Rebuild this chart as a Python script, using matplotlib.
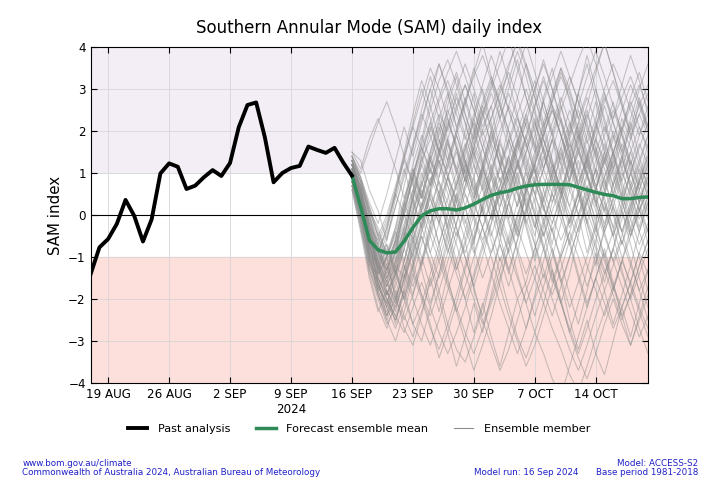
import numpy as np
import matplotlib
matplotlib.use("Agg")
import matplotlib.pyplot as plt

# %%
# Data
past_start = np.datetime64("2024-08-17")
fc_start = np.datetime64("2024-09-16")

past_sam = [-1.40, -0.77, -0.57, -0.21, 0.36, -0.02, -0.63, -0.10, 0.99, 1.23,
            1.15, 0.62, 0.70, 0.90, 1.07, 0.93, 1.24, 2.09, 2.62, 2.68,
            1.85, 0.78, 1.00, 1.12, 1.17, 1.63, 1.55, 1.48, 1.60, 1.25, 0.94]

ens_mean = [0.94, 0.20, -0.60, -0.83, -0.90, -0.88, -0.62, -0.30, -0.02, 0.10,
            0.15, 0.15, 0.12, 0.17, 0.26, 0.37, 0.47, 0.53, 0.57, 0.64,
            0.69, 0.72, 0.73, 0.73, 0.73, 0.72, 0.66, 0.60, 0.54, 0.49,
            0.46, 0.39, 0.39, 0.42, 0.43]

members = [
    [1.2, 0.5, -0.4, -1.0, -1.3, -0.8, -0.2, 0.6, 1.3, 1.8, 2.4, 2.0, 2.6, 3.1, 2.5, 1.9, 2.3, 2.9, 3.4, 2.8, 2.1, 1.5, 1.9, 2.6, 2.2, 1.4, 0.8, 1.3, 2.0, 2.7, 3.2, 2.6, 1.9, 2.4, 2.9],
    [0.9, 0.1, -0.9, -1.6, -2.1, -2.5, -1.9, -1.2, -0.5, -1.1, -1.8, -2.6, -3.2, -3.5, -2.9, -2.2, -1.4, -0.7, -1.3, -2.0, -1.6, -0.8, -0.2, 0.5, 0.1, -0.6, -1.4, -2.1, -1.5, -0.9, -1.7, -2.4, -1.9, -1.2, -0.6],
    [1.4, 0.9, 0.2, -0.5, -1.1, -0.6, 0.3, 1.1, 0.5, -0.2, 0.4, 1.2, 1.9, 1.3, 0.6, 1.1, 1.8, 2.5, 3.2, 3.9, 3.3, 2.5, 1.8, 1.1, 0.4, 0.9, 1.6, 1.0, 0.3, -0.4, 0.2, 0.9, 1.5, 2.1, 1.6],
    [1.0, 0.3, -0.7, -1.4, -1.0, -0.4, 0.3, -0.3, -1.0, -1.7, -1.1, -0.4, 0.4, 1.1, 1.7, 1.2, 0.5, -0.2, -0.9, -0.3, 0.6, 1.4, 2.1, 2.7, 3.3, 2.8, 2.0, 1.2, 0.6, 1.3, 1.9, 1.4, 0.7, 0.1, 0.6],
    [0.8, 0.0, -1.1, -1.8, -2.4, -2.0, -1.3, -0.6, 0.2, 0.9, 0.4, -0.3, 0.5, 1.2, 0.8, 0.1, -0.6, -1.4, -2.2, -2.9, -3.4, -2.8, -3.3, -3.9, -4.3, -3.6, -2.9, -2.2, -1.5, -2.1, -2.7, -2.2, -1.6, -0.9, -1.4],
    [1.5, 1.1, 1.8, 2.3, 1.7, 1.1, 0.4, 1.0, 1.6, 1.1, 0.5, 1.3, 2.0, 2.7, 3.3, 3.8, 3.2, 2.6, 2.0, 1.3, 0.7, 1.2, 1.9, 2.5, 1.9, 1.2, 0.6, 0.0, 0.6, 1.3, 2.0, 1.5, 0.8, 0.3, 0.9],
    [1.1, 0.4, -0.5, -1.2, -1.7, -1.2, -0.5, 0.4, 1.2, 2.0, 2.7, 3.2, 2.6, 1.9, 1.2, 0.6, 1.1, 1.7, 1.2, 0.5, -0.2, 0.4, 1.1, 1.8, 2.5, 3.1, 3.7, 4.2, 3.6, 2.9, 2.3, 2.8, 3.3, 2.7, 2.1],
    [0.7, -0.1, -1.0, -1.7, -2.2, -2.7, -2.1, -1.4, -2.0, -2.7, -3.2, -2.6, -1.9, -1.2, -0.5, 0.2, -0.4, -1.1, -0.5, 0.3, 1.0, 0.5, -0.2, -0.9, -1.6, -1.0, -0.3, 0.4, 1.1, 0.6, 0.0, -0.7, -0.1, 0.6, 1.2],
    [1.3, 0.6, -0.3, -0.9, -0.4, 0.5, 1.3, 2.1, 2.8, 3.5, 3.0, 2.3, 1.6, 1.0, 1.6, 2.3, 2.9, 2.3, 1.6, 0.9, 0.3, -0.3, 0.4, 1.0, 0.5, -0.2, 0.5, 1.2, 1.8, 1.3, 0.7, 0.1, -0.5, 0.1, 0.8],
    [0.9, 0.2, -0.8, -1.5, -1.9, -1.4, -0.8, -1.3, -1.9, -2.4, -1.8, -1.1, -0.4, -1.0, -1.7, -2.5, -3.1, -3.7, -3.2, -2.5, -1.8, -1.2, -1.8, -2.4, -1.7, -1.0, -0.3, 0.3, -0.3, -1.0, -0.4, 0.3, 1.0, 0.5, -0.1],
    [1.2, 0.7, 0.0, -0.6, -0.1, 0.6, 1.3, 0.8, 0.2, 0.8, 1.5, 2.2, 1.7, 1.0, 0.4, 1.0, 1.7, 1.2, 0.6, 1.2, 1.9, 2.6, 3.2, 2.6, 1.9, 1.3, 0.7, 1.4, 2.1, 2.8, 2.2, 1.6, 1.0, 1.6, 2.2],
    [1.0, 0.3, -0.6, -1.3, -1.8, -2.2, -1.6, -0.9, -0.2, 0.5, 0.0, -0.6, -1.3, -0.7, 0.0, 0.7, 1.4, 2.0, 2.6, 2.1, 1.4, 0.8, 0.2, -0.4, 0.2, 0.9, 1.5, 1.0, 0.3, -0.4, -1.1, -0.5, 0.2, -0.4, -1.0],
    [0.6, -0.3, -1.3, -2.0, -2.6, -2.2, -1.5, -0.8, -0.1, 0.6, 1.3, 0.7, 0.0, 0.6, 1.2, 0.6, -0.1, 0.5, 1.1, 1.8, 1.2, 0.5, -0.1, -0.8, -1.5, -2.2, -1.6, -1.0, -0.3, 0.3, -0.3, -1.0, -1.7, -2.3, -2.9],
    [1.3, 0.8, 0.2, -0.4, -0.9, -0.3, 0.4, 1.2, 1.9, 1.3, 0.7, 0.1, -0.5, 0.2, 0.9, 1.6, 2.3, 3.0, 3.6, 4.1, 3.5, 2.8, 2.1, 2.7, 3.4, 2.9, 2.3, 1.7, 2.3, 3.0, 3.6, 3.1, 2.5, 1.9, 2.4],
    [1.0, 0.4, -0.5, -1.2, -1.6, -1.1, -0.4, 0.3, -0.3, -0.9, -1.5, -0.9, -0.2, 0.5, 0.0, -0.6, 0.0, 0.7, 1.3, 0.8, 0.2, 0.8, 1.4, 0.9, 0.3, -0.3, 0.3, 0.9, 0.4, -0.2, 0.4, 1.0, 0.5, -0.1, 0.4],
    [1.4, 0.8, 0.0, -0.7, -1.3, -0.9, 0.0, 0.9, 1.7, 2.5, 3.2, 3.7, 3.1, 2.4, 1.8, 2.4, 3.0, 3.6, 4.2, 3.5, 2.8, 2.2, 1.6, 1.0, 1.6, 2.2, 1.6, 0.9, 0.3, 0.9, 1.5, 2.1, 1.6, 1.0, 0.5],
    [0.8, 0.0, -1.0, -1.8, -2.3, -1.8, -2.4, -2.9, -2.3, -1.6, -0.9, -0.2, 0.5, -0.1, -0.8, -1.5, -0.9, -0.2, 0.5, 1.2, 0.6, 0.0, -0.7, -1.4, -2.1, -2.8, -3.4, -3.9, -3.3, -2.6, -2.0, -2.6, -3.1, -2.5, -1.9],
    [1.1, 0.5, -0.2, -0.8, -1.3, -0.7, 0.1, 0.9, 0.4, 1.1, 1.8, 1.3, 0.6, 1.2, 1.9, 2.6, 2.1, 1.4, 0.8, 0.2, 0.8, 1.5, 2.2, 2.9, 3.5, 3.0, 2.3, 2.9, 3.5, 4.1, 3.4, 2.7, 2.0, 2.6, 3.1],
    [0.9, 0.2, -0.7, -1.3, -0.8, -1.4, -2.0, -2.6, -2.1, -1.4, -0.7, 0.0, 0.7, 1.3, 0.7, 0.1, -0.5, 0.2, 0.9, 1.6, 2.2, 1.6, 0.9, 0.3, 0.9, 1.5, 2.1, 1.4, 0.7, 0.1, 0.7, 1.3, 0.7, 0.1, -0.4],
    [1.2, 0.6, -0.2, -0.9, -1.5, -1.0, -0.3, 0.5, 1.2, 0.7, 1.4, 2.1, 2.8, 2.2, 1.5, 0.9, 0.3, -0.3, -0.9, -1.5, -2.1, -1.5, -0.8, -0.2, 0.5, 1.1, 0.5, -0.2, -0.8, -1.4, -0.8, -0.1, 0.6, 1.2, 0.7],
    [1.0, 0.3, -0.6, -1.2, -0.6, 0.2, 1.0, 1.7, 2.4, 1.9, 1.2, 1.8, 2.5, 3.1, 2.5, 1.8, 1.1, 0.5, 1.1, 1.8, 2.4, 3.0, 3.6, 3.0, 2.3, 1.6, 2.2, 2.8, 2.2, 1.6, 1.0, 0.4, 1.0, 1.7, 1.2],
    [0.7, -0.2, -1.2, -1.9, -2.5, -2.0, -1.4, -2.0, -2.6, -3.1, -2.5, -1.8, -1.1, -0.4, 0.3, -0.3, -1.0, -1.7, -2.4, -3.0, -3.6, -3.1, -2.4, -1.7, -1.0, -0.4, -1.0, -1.7, -1.1, -0.4, 0.2, -0.4, -1.1, -1.8, -2.5],
    [1.3, 0.7, -0.1, -0.7, -0.2, 0.5, 0.0, -0.6, 0.1, 0.8, 1.5, 1.0, 0.3, 0.9, 1.6, 1.1, 0.5, 1.1, 1.7, 2.3, 1.7, 1.0, 1.6, 2.2, 2.8, 2.2, 1.5, 0.9, 1.5, 2.1, 1.5, 0.8, 0.2, 0.8, 1.4],
    [1.1, 0.4, -0.4, -1.1, -1.6, -2.1, -1.5, -0.9, -0.3, 0.4, -0.2, -0.8, -1.4, -2.0, -1.4, -0.7, 0.0, 0.6, 0.1, -0.5, 0.1, 0.8, 0.2, -0.4, -1.0, -0.4, 0.3, 1.0, 1.6, 1.1, 0.5, 1.1, 1.8, 2.4, 1.9],
    [0.9, 0.2, -0.7, -1.4, -1.9, -1.4, -0.7, 0.1, 0.8, 1.4, 0.8, 0.1, 0.7, 1.4, 2.0, 2.7, 3.3, 2.7, 2.0, 1.3, 0.7, 0.1, -0.5, 0.1, 0.7, 0.2, -0.4, 0.3, 0.9, 1.5, 0.9, 0.3, -0.3, 0.3, 0.9],
    [1.0, 0.4, -0.5, -1.1, -1.5, -1.1, -0.5, 0.2, 0.9, 1.5, 2.2, 1.7, 1.1, 0.5, -0.1, -0.7, -1.4, -2.1, -2.7, -3.3, -2.7, -2.0, -1.4, -2.0, -2.6, -3.2, -3.7, -3.1, -2.4, -1.8, -1.2, -0.6, -1.2, -1.8, -1.3],
    [1.2, 0.7, 0.1, -0.5, -1.0, -0.5, 0.2, 0.9, 1.6, 2.2, 2.8, 3.4, 3.9, 3.3, 2.7, 2.0, 1.4, 0.8, 1.4, 2.0, 2.6, 3.2, 2.5, 1.9, 1.3, 1.9, 2.6, 3.3, 3.9, 3.3, 2.6, 2.0, 2.6, 3.1, 2.5],
    [0.8, 0.1, -0.8, -1.5, -2.0, -2.4, -1.8, -1.1, -0.4, 0.2, 0.8, 0.3, -0.3, -0.9, -0.3, 0.4, 1.0, 0.4, -0.2, -0.8, -1.4, -0.8, -0.1, 0.5, 1.1, 1.7, 1.1, 0.5, -0.1, 0.5, 1.1, 1.7, 1.2, 0.6, 0.0],
    [1.1, 0.5, -0.3, -0.9, -1.3, -0.7, 0.0, 0.6, 0.1, -0.5, -1.1, -1.7, -2.3, -1.7, -1.0, -0.3, 0.4, 1.1, 1.8, 1.2, 0.6, 1.2, 1.8, 1.2, 0.6, 0.0, -0.6, -1.2, -1.8, -2.4, -1.8, -1.1, -0.5, 0.1, 0.6],
    [1.3, 0.8, 0.1, -0.5, 0.0, 0.7, 1.4, 2.1, 1.6, 1.0, 1.7, 2.4, 3.0, 3.6, 3.0, 2.4, 1.7, 2.3, 2.9, 2.3, 1.7, 1.0, 0.4, -0.2, 0.4, 1.1, 1.8, 2.4, 1.8, 1.2, 1.8, 2.5, 3.1, 2.6, 2.0],
    [0.9, 0.1, -0.9, -1.6, -2.2, -1.7, -1.1, -0.4, 0.3, -0.3, -0.9, -1.6, -2.2, -2.8, -3.3, -2.7, -2.1, -1.5, -0.8, -0.2, 0.4, -0.2, -0.8, -1.5, -2.1, -2.7, -3.3, -2.7, -2.0, -1.4, -0.8, -1.4, -2.0, -1.4, -0.8],
    [1.0, 0.3, -0.6, -1.2, -1.7, -1.2, -0.6, 0.1, 0.7, 1.3, 1.9, 2.5, 1.9, 1.2, 0.6, 0.0, 0.6, 1.2, 1.8, 2.4, 3.0, 2.4, 1.8, 1.2, 0.6, 1.2, 1.9, 1.3, 0.7, 0.1, -0.5, 0.1, 0.7, 1.3, 1.9],
    [1.2, 0.6, -0.1, -0.8, -1.2, -0.6, -1.2, -1.7, -1.1, -0.4, 0.3, 0.9, 0.4, -0.2, 0.4, 1.1, 0.5, -0.1, -0.7, -0.1, 0.6, 1.3, 1.9, 2.5, 1.9, 1.3, 0.7, 0.1, -0.5, -1.1, -1.7, -2.2, -1.6, -0.9, -0.3],
    [1.1, 0.4, -0.4, -1.0, -0.5, 0.2, 0.9, 1.6, 2.3, 3.0, 3.6, 3.0, 2.4, 1.8, 2.4, 3.1, 3.8, 3.2, 2.5, 1.9, 1.3, 0.7, 1.3, 2.0, 2.7, 3.3, 2.7, 2.1, 1.5, 0.9, 1.5, 2.1, 2.7, 2.1, 1.5],
    [0.8, 0.0, -1.0, -1.7, -2.1, -1.5, -0.8, -0.1, 0.5, 1.1, 0.5, -0.1, -0.7, -1.4, -2.0, -2.6, -2.0, -1.3, -0.6, 0.0, 0.6, 1.2, 0.6, 0.0, -0.6, -0.1, 0.5, -0.1, -0.7, -1.3, -1.9, -2.5, -1.9, -1.2, -0.6],
    [1.4, 1.0, 1.6, 2.2, 2.7, 2.1, 1.4, 0.7, 0.1, 0.7, 1.3, 0.7, 0.1, 0.7, 1.4, 2.0, 2.6, 3.1, 2.5, 1.8, 1.1, 0.5, 1.1, 1.8, 1.2, 0.6, 0.0, 0.6, 1.3, 1.9, 2.5, 1.9, 1.3, 0.7, 1.3],
    [1.0, 0.3, -0.5, -1.1, -1.6, -2.0, -2.5, -1.9, -1.2, -0.5, 0.2, 0.9, 1.5, 0.9, 0.3, -0.3, -0.9, -0.3, 0.3, 0.9, 1.5, 2.1, 2.7, 3.3, 3.9, 3.3, 2.7, 2.0, 1.4, 0.8, 0.2, -0.4, 0.2, 0.8, 1.4],
    [0.7, -0.1, -1.1, -1.8, -1.3, -0.6, 0.1, 0.8, 1.5, 2.1, 1.5, 0.9, 0.3, -0.3, -0.9, -0.3, 0.3, 0.9, 0.3, -0.3, -0.9, -1.5, -2.1, -2.7, -3.2, -3.8, -4.2, -3.6, -2.9, -2.3, -1.7, -1.1, -1.6, -2.2, -2.7],
    [1.2, 0.5, -0.3, -0.9, -1.4, -0.9, -0.3, 0.4, 1.0, 0.4, -0.2, 0.4, 1.0, 1.6, 2.2, 1.6, 1.0, 0.4, 1.0, 1.7, 2.3, 1.7, 1.1, 0.5, -0.1, -0.7, -0.1, 0.5, 1.1, 1.7, 1.1, 0.5, -0.1, -0.7, -0.2],
    [0.9, 0.2, -0.8, -1.5, -2.0, -2.4, -2.8, -2.2, -1.6, -2.2, -2.8, -3.3, -2.8, -2.2, -1.5, -0.8, -0.2, 0.5, 1.1, 0.5, -0.1, -0.7, -1.3, -1.9, -1.3, -0.6, 0.0, 0.7, 0.1, -0.5, -1.1, -1.7, -2.3, -2.9, -2.4],
    [1.3, 0.4, -0.8, -1.1, -1.9, -1.2, -1.5, -0.4, 0.2, 1.3, 0.9, 1.8, 1.1, 2.0, 2.9, 2.1, 2.6, 1.5, 0.8, 1.7, 2.4, 1.6, 2.8, 3.5, 2.6, 1.9, 2.9, 3.8, 3.0, 2.2, 1.4, 2.3, 1.8, 2.7, 2.0],
    [1.0, 0.6, -0.2, -1.4, -1.0, -2.0, -1.3, -0.5, -1.2, -0.3, 0.5, -0.4, -1.3, -0.6, -1.8, -2.4, -1.5, -0.6, 0.3, -0.5, 0.6, 1.1, 0.2, -0.7, 0.4, 1.3, 0.5, -0.4, -1.2, -0.3, 0.8, 1.4, 0.6, -0.3, 0.5],
    [0.6, -0.4, -1.5, -2.3, -1.8, -2.6, -1.7, -0.7, 0.1, -0.9, -0.2, 0.9, 1.6, 0.8, 1.9, 2.6, 3.2, 2.3, 3.0, 3.7, 2.8, 2.0, 1.1, 1.8, 0.9, 0.2, 1.0, 1.9, 2.7, 1.8, 1.1, 2.0, 2.8, 3.4, 2.7],
    [1.5, 1.3, 0.6, 0.1, -0.6, 0.4, 1.1, 0.3, 1.4, 2.2, 1.5, 2.6, 3.3, 2.4, 1.7, 2.5, 1.6, 0.8, -0.1, 0.7, -0.2, -1.0, -0.3, 0.6, 1.5, 0.8, 1.7, 2.5, 1.6, 0.7, 1.5, 0.6, -0.4, 0.3, 1.1],
    [0.9, -0.1, -1.2, -1.6, -2.4, -1.9, -2.7, -3.1, -2.4, -1.5, -2.3, -1.4, -0.6, 0.2, -0.7, 0.3, 1.2, 0.5, 1.4, 0.6, -0.3, -1.1, -0.4, -1.3, -2.1, -1.4, -0.5, 0.4, -0.4, 0.5, 1.3, 0.4, -0.5, 0.2, -0.7],
    [1.1, 0.7, -0.4, -0.8, -1.5, -0.9, 0.2, 1.0, 0.4, 1.5, 2.3, 2.9, 2.1, 2.7, 3.5, 2.9, 2.0, 1.2, 2.1, 2.8, 3.6, 3.0, 2.2, 1.3, 0.5, 1.4, 2.2, 1.5, 0.6, 1.5, 2.3, 3.1, 3.8, 3.2, 2.4],
    [0.8, 0.1, -0.6, -1.7, -2.1, -1.3, -0.4, -1.1, -1.9, -2.6, -3.4, -2.8, -3.6, -2.9, -2.1, -2.8, -1.9, -1.0, -1.7, -0.9, 0.0, 0.8, 0.1, 0.9, 1.6, 0.8, 0.0, -0.9, -0.2, -1.0, -1.8, -1.1, -0.3, -1.0, -1.8],
    [1.2, 0.3, -0.5, -1.3, -0.7, -1.4, -0.6, 0.5, 1.4, 0.7, 1.6, 0.9, 0.1, 0.9, 0.2, 1.1, 1.9, 1.2, 0.4, -0.4, 0.5, -0.3, 0.6, 1.5, 2.3, 1.5, 0.7, -0.2, 0.6, 1.4, 0.5, 1.3, 2.2, 1.4, 0.6],
    [1.0, 0.2, -1.0, -1.4, -1.0, -0.3, 0.7, 1.6, 2.5, 3.3, 2.6, 1.8, 1.0, 1.7, 0.9, 0.1, 0.9, 1.8, 2.6, 3.4, 4.1, 3.4, 2.7, 1.9, 2.6, 1.8, 1.0, 0.3, 1.1, 0.4, -0.3, 0.5, 1.3, 0.6, 1.2],
    [0.7, -0.3, -1.4, -2.2, -2.7, -2.1, -1.2, -1.9, -1.1, -0.2, 0.6, -0.3, -1.1, -2.0, -2.8, -2.1, -2.9, -3.6, -2.8, -2.0, -2.7, -1.9, -1.1, -0.3, -1.1, -1.9, -2.6, -1.8, -0.9, -1.6, -0.8, 0.1, -0.7, -1.5, -2.2],
    [1.4, 0.9, 0.1, -0.3, -1.0, -0.4, -1.1, -0.2, 0.6, 0.0, 0.9, 1.7, 1.0, 0.2, -0.6, 0.2, 1.0, 1.8, 1.0, 0.2, 1.1, 1.9, 2.7, 2.0, 1.2, 2.0, 2.9, 3.6, 2.8, 2.0, 2.7, 1.9, 1.1, 0.3, 1.0],
    [0.9, 0.3, -0.9, -1.2, -1.8, -2.3, -1.5, -0.6, -1.3, -2.1, -1.4, -0.5, 0.3, 1.1, 0.4, 1.2, 0.4, -0.5, 0.3, 1.0, 0.2, -0.7, -1.5, -0.8, -1.6, -2.5, -3.2, -2.5, -3.3, -3.8, -3.0, -2.2, -2.9, -2.1, -1.3],
    [1.2, 0.8, 0.0, -0.9, -0.3, 0.5, 1.4, 2.2, 3.0, 2.3, 1.5, 2.3, 1.6, 0.8, 1.6, 2.4, 3.1, 3.9, 3.2, 2.4, 1.6, 2.3, 1.5, 0.7, 1.4, 2.1, 2.9, 2.2, 1.4, 0.6, 1.3, 2.0, 1.2, 1.9, 2.6],
    [1.0, 0.1, -0.7, -1.6, -2.2, -1.4, -0.5, 0.4, -0.3, 0.6, -0.1, -0.9, -0.2, 0.7, 1.5, 0.8, 0.1, -0.7, -1.4, -0.6, 0.2, -0.5, 0.4, 1.2, 0.5, 1.3, 2.0, 1.3, 0.5, -0.3, 0.4, -0.4, 0.3, 1.1, 0.4],
    [1.3, 0.6, -0.3, -0.6, -1.2, -1.9, -1.1, -0.2, 0.7, 1.4, 2.1, 1.3, 2.0, 2.8, 2.1, 1.3, 0.6, -0.2, 0.6, 1.3, 0.5, 1.2, 2.0, 2.8, 3.5, 2.7, 1.9, 1.1, 1.8, 2.6, 1.9, 1.1, 0.4, -0.4, 0.3],
    [0.8, 0.0, -1.1, -1.5, -2.0, -2.5, -1.8, -2.6, -3.0, -2.2, -1.4, -0.7, 0.1, -0.6, 0.2, 1.0, 0.3, -0.5, -1.3, -0.6, 0.1, 0.9, 1.6, 0.9, 0.1, -0.7, -1.5, -2.2, -1.5, -0.8, -1.6, -2.4, -3.1, -2.4, -1.7],
    [1.1, 0.5, -0.6, -1.0, -1.6, -0.8, 0.1, 0.9, 1.8, 2.7, 3.6, 2.9, 2.1, 1.3, 0.5, 1.2, 2.0, 2.7, 3.5, 4.2, 3.6, 2.8, 2.0, 1.3, 0.6, -0.2, 0.5, 1.3, 2.1, 2.9, 2.2, 1.5, 2.3, 3.0, 3.6],
    [0.9, 0.4, -0.4, -1.1, -0.7, -1.3, -2.0, -1.2, -0.4, 0.5, 1.2, 0.5, -0.3, -1.0, -1.7, -1.0, -0.2, 0.6, -0.1, -0.9, -1.7, -2.4, -1.7, -1.0, -0.2, 0.6, 1.3, 0.6, -0.2, 0.6, 1.4, 0.7, 0.0, 0.8, 1.5],
    [1.2, 0.6, -0.2, -0.7, -1.4, -0.6, 0.3, 1.1, 0.4, 1.3, 2.0, 2.8, 3.4, 2.7, 2.0, 1.2, 2.0, 1.2, 0.4, 1.2, 1.9, 1.1, 0.3, 1.0, 1.8, 2.5, 1.8, 1.0, 0.2, 0.9, 0.1, -0.7, 0.1, 0.9, 1.7],
    [1.0, 0.2, -0.9, -1.9, -2.5, -3.0, -2.3, -1.5, -0.7, 0.1, -0.7, -1.5, -2.3, -3.0, -3.7, -3.1, -2.4, -1.6, -0.8, 0.0, 0.7, 0.0, -0.8, -1.6, -0.9, -0.1, 0.6, -0.2, -1.0, -1.8, -2.6, -1.9, -1.2, -0.4, 0.3],
    [1.3, 0.9, 0.3, -0.2, 0.5, 1.3, 2.1, 1.4, 2.2, 3.0, 2.3, 1.5, 0.7, 1.5, 2.3, 3.0, 2.2, 1.4, 0.7, 1.5, 2.2, 3.0, 3.7, 3.0, 2.2, 1.5, 0.7, 1.4, 2.2, 1.5, 0.7, 1.4, 2.1, 2.8, 2.1],
    [0.8, -0.2, -1.3, -1.9, -2.4, -1.6, -0.8, 0.0, 0.8, 0.1, -0.7, 0.1, 0.8, 1.6, 2.3, 1.6, 0.9, 0.1, -0.6, -1.4, -2.1, -2.8, -2.1, -1.3, -2.0, -2.8, -2.1, -1.3, -0.6, 0.2, -0.5, -1.3, -2.0, -2.7, -3.3],
    [1.1, 0.3, -0.7, -1.3, -1.7, -1.1, -0.3, -1.0, -0.2, 0.6, 1.4, 2.1, 2.9, 2.2, 1.4, 0.7, -0.1, 0.7, 1.4, 0.7, 1.5, 2.2, 1.5, 0.8, 0.0, 0.8, 1.5, 2.3, 3.0, 2.3, 1.5, 0.8, 1.5, 0.8, 0.1],
    [1.0, 0.5, -0.5, -1.3, -1.9, -1.3, -2.0, -1.3, -0.5, -1.2, -2.0, -2.8, -2.1, -1.3, -0.6, 0.2, 0.9, 0.2, 1.0, 1.7, 1.0, 0.3, -0.5, 0.3, 1.0, 1.8, 2.5, 1.8, 1.0, 0.3, -0.5, 0.2, 1.0, 0.3, -0.4],
    [1.2, 0.5, -0.4, -0.9, -0.3, 0.6, 1.5, 2.4, 3.2, 2.6, 1.8, 1.1, 1.9, 2.6, 3.4, 4.1, 3.3, 2.6, 1.8, 1.1, 1.8, 2.6, 3.3, 2.6, 1.9, 1.1, 1.9, 2.6, 3.4, 4.1, 3.4, 2.6, 1.9, 1.2, 1.9],
]

tick_dates = ["2024-08-19", "2024-08-26", "2024-09-02", "2024-09-09", "2024-09-16",
              "2024-09-23", "2024-09-30", "2024-10-07", "2024-10-14"]
tick_labels = ["19 AUG", "26 AUG", "2 SEP", "9 SEP\n2024", "16 SEP",
               "23 SEP", "30 SEP", "7 OCT", "14 OCT"]
y_ticks = [-4, -3, -2, -1, 0, 1, 2, 3, 4]

# %%
past_dates = past_start + np.arange(len(past_sam))
fc_dates = fc_start + np.arange(len(ens_mean))

fig, ax = plt.subplots(figsize=(7.2, 4.8), dpi=100)
fig.subplots_adjust(left=0.126, right=0.900, top=0.902, bottom=0.202)

# shaded SAM phases
ax.axhspan(1, 4, color="#f3eef5", zorder=0)
ax.axhspan(-4, -1, color="#fde0dc", zorder=0)
ax.set_axisbelow(True)
ax.grid(color="#d6d6d6", linewidth=0.6)

for i, m in enumerate(members):
    ax.plot(fc_start + np.arange(len(m)), m, color="#8a8a8a", linewidth=0.75,
            alpha=0.48, zorder=3, label="Ensemble member" if i == 0 else None)

ax.axhline(0, color="black", linewidth=0.8, zorder=4)
ax.plot(fc_dates, ens_mean, color="#2e8b57", linewidth=2.5, zorder=5,
        label="Forecast ensemble mean")
ax.plot(past_dates, past_sam, color="black", linewidth=2.8, zorder=6,
        label="Past analysis")

ax.set_xlim(past_dates[0], fc_dates[-1])
ax.set_ylim(-4, 4)
ax.set_yticks(y_ticks)
ax.set_xticks(np.array(tick_dates, dtype="datetime64[D]"))
ax.set_xticklabels(tick_labels)
ax.tick_params(direction="in", top=True, right=True, labelsize=8.6, length=4)

ax.set_ylabel("SAM index", fontsize=10.8)
ax.set_title("Southern Annular Mode (SAM) daily index", fontsize=12, pad=10)

handles, labels = ax.get_legend_handles_labels()
order = [labels.index("Past analysis"), labels.index("Forecast ensemble mean"),
         labels.index("Ensemble member")]
leg = ax.legend([handles[k] for k in order], [labels[k] for k in order],
                loc="center", bbox_to_anchor=(0.499, 0.106), bbox_transform=fig.transFigure,
                ncol=3, frameon=False, fontsize=8.1, handlelength=1.7,
                handletextpad=0.95, columnspacing=2.3)
leg.legend_handles[2].set_alpha(1.0)

blue = "#2020c8"
fig.text(0.031, 0.035, "www.bom.gov.au/climate", fontsize=6.3, color=blue, ha="left", va="center")
fig.text(0.031, 0.016, "Commonwealth of Australia 2024, Australian Bureau of Meteorology",
         fontsize=6.3, color=blue, ha="left", va="center")
fig.text(0.970, 0.035, "Model: ACCESS-S2", fontsize=6.3, color=blue, ha="right", va="center")
fig.text(0.970, 0.016, "Base period 1981-2018", fontsize=6.3, color=blue, ha="right", va="center")
fig.text(0.803, 0.016, "Model run: 16 Sep 2024", fontsize=6.3, color=blue, ha="right", va="center")

fig.savefig("out.png", dpi=100)
